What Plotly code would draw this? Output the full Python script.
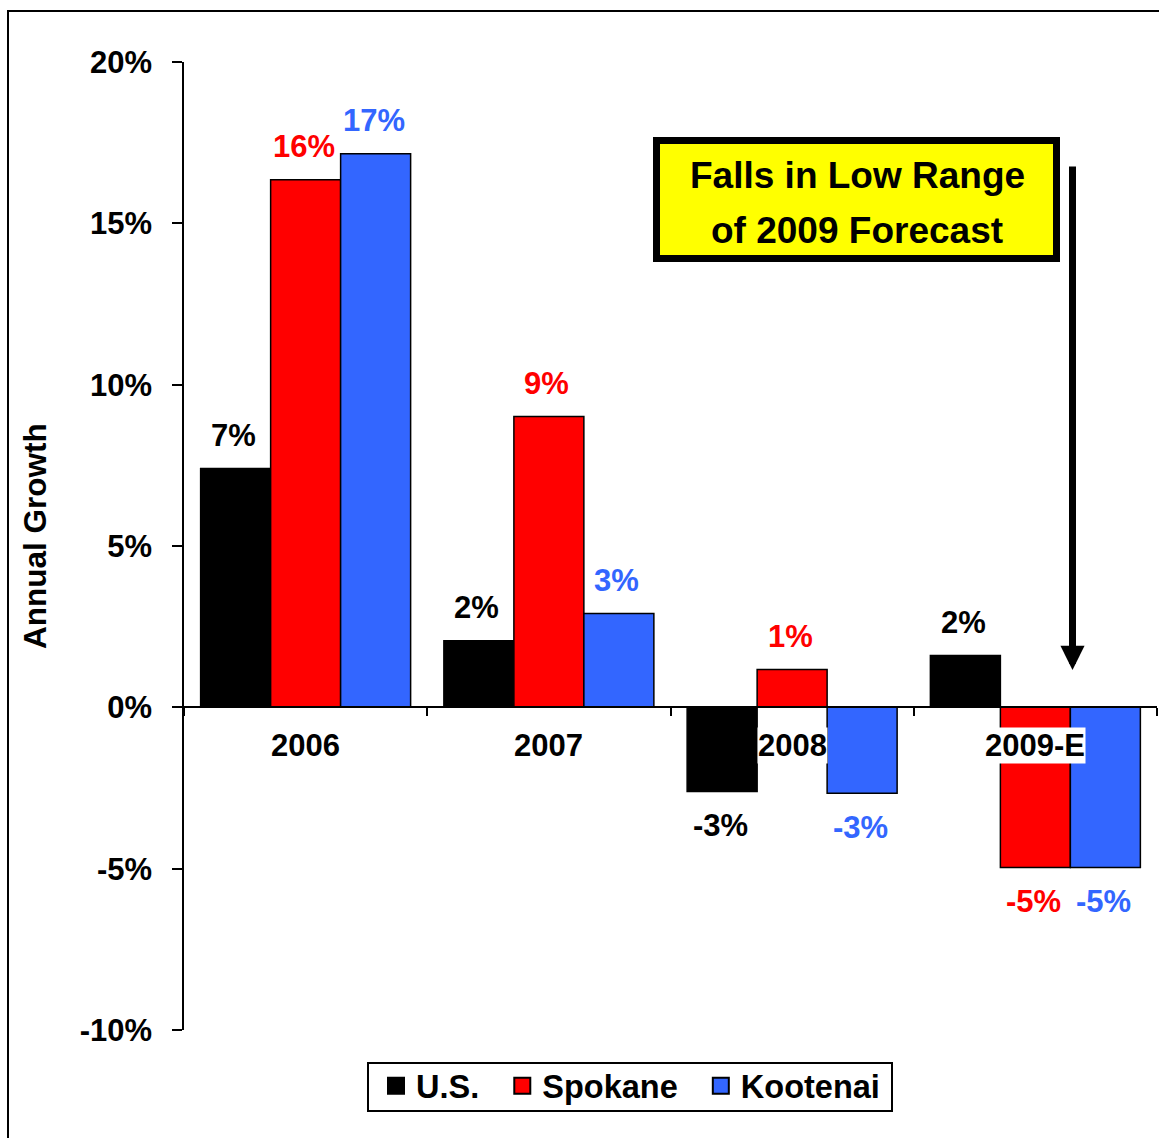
import plotly.graph_objects as go

categories = ["2006", "2007", "2008", "2009-E"]
series_names = ["U.S.", "Spokane", "Kootenai"]
us_values = [7.40, 2.06, -2.61, 1.61]
spokane_values = [16.35, 9.01, 1.17, -4.96]
kootenai_values = [17.16, 2.91, -2.66, -4.96]
series_colors = ["#000000", "#FF0000", "#3366FF"]
y_min, y_max, y_step = -10, 20, 5
y_tickvals = [-10, -5, 0, 5, 10, 15, 20]
y_ticktext = ["-10%", "-5%", "0%", "5%", "10%", "15%", "20%"]
callout_lines = ["Falls in Low Range", "of 2009 Forecast"]
y_title = "Annual Growth"

FONT = "Arial, Liberation Sans, sans-serif"
BARGAP = 0.1367
W, H = 1159, 1138
ML, MR, MT, MB = 184, 2, 62, 108
PW, PH = W - ML - MR, H - MT - MB

def px_x(p):
    return (p - ML) / PW

def px_y(p):
    return (H - MB - p) / PH

all_values = [us_values, spokane_values, kootenai_values]
NB = "\u00a0"
legend_labels = [series_names[0] + NB * 2, series_names[1] + NB * 2, series_names[2]]

fig = go.Figure()
for name, vals, col in zip(series_names, all_values, series_colors):
    fig.add_trace(go.Bar(x=categories, y=vals, name=name,
                         marker=dict(color=col, line=dict(color="black", width=1.5)),
                         showlegend=False, hoverinfo="skip"))
for name, col in zip(legend_labels, series_colors):
    fig.add_trace(go.Scatter(x=[None], y=[None], mode="markers", name=name,
                             marker=dict(symbol="square", size=16, color=col,
                                         line=dict(color="black", width=2))))

annotations = []
bw = (1 - BARGAP) / len(series_names)
for si, (vals, col) in enumerate(zip(all_values, series_colors)):
    for ci, v in enumerate(vals):
        annotations.append(dict(x=ci + (si - 1) * bw, y=v, xref="x", yref="y", text=f"{round(v):.0f}%",
                                showarrow=False, xanchor="center", yanchor="middle",
                                yshift=33 if v >= 0 else -34, xshift=-2,
                                font=dict(family=FONT, size=31, color=col, weight="bold")))
for ci, c in enumerate(categories):
    annotations.append(dict(x=ci, y=0, xref="x", yref="y", text=c, showarrow=False,
                            xanchor="center", yanchor="middle",
                            yshift=-38, bgcolor="white", borderpad=0,
                            font=dict(family=FONT, size=31, color="black", weight="bold")))
for line, cy in zip(callout_lines, [175, 231]):
    annotations.append(dict(x=px_x(857), y=px_y(cy), xref="paper", yref="paper", text=line,
                            showarrow=False, xanchor="center", yanchor="middle",
                            font=dict(family=FONT, size=37, color="black", weight="bold")))
annotations.append(dict(x=px_x(1072.5), y=px_y(670), xref="paper", yref="paper", text="", showarrow=True,
                        ax=0, ay=-505, axref="pixel", ayref="pixel", arrowhead=2, arrowsize=0.69,
                        arrowwidth=7, arrowcolor="black", standoff=0, startstandoff=0))
annotations.append(dict(x=px_x(35), y=px_y(536), xref="paper", yref="paper", text=y_title, textangle=-90,
                        showarrow=False, xanchor="center", yanchor="middle",
                        font=dict(family=FONT, size=31.5, color="black", weight="bold")))

shapes = [
    dict(type="rect", xref="paper", yref="paper", x0=px_x(656.5), x1=px_x(1056.5),
         y0=px_y(258.5), y1=px_y(140.5),
         fillcolor="#FFFF00", line=dict(color="black", width=7), layer="below"),
    dict(type="rect", xref="paper", yref="paper", x0=px_x(8), x1=px_x(1175), y0=px_y(1160), y1=px_y(11),
         fillcolor="rgba(0,0,0,0)", line=dict(color="black", width=2)),
    dict(type="rect", xref="paper", yref="paper", x0=px_x(368), x1=px_x(892), y0=px_y(1111), y1=px_y(1063),
         fillcolor="rgba(0,0,0,0)", line=dict(color="black", width=2)),
]

fig.update_layout(
    width=W, height=H, margin=dict(l=ML, r=MR, t=MT, b=MB),
    paper_bgcolor="white", plot_bgcolor="rgba(0,0,0,0)",
    barmode="group", bargap=BARGAP, bargroupgap=0,
    font=dict(family=FONT, size=31, color="black", weight="bold"),
    xaxis=dict(type="category", anchor="free", position=(0 - y_min) / (y_max - y_min),
               showline=True, linecolor="black", linewidth=2, ticks="outside", tickson="boundaries",
               ticklen=8, tickwidth=1.5, tickcolor="black", showticklabels=False, showgrid=False),
    yaxis=dict(range=[y_min, y_max], tickvals=y_tickvals, ticktext=y_ticktext, showline=True,
               linecolor="black", linewidth=1.5, ticks="outside", ticklen=10, tickwidth=1.5,
               tickcolor="black", showgrid=False, zeroline=False, ticklabelstandoff=14,
               tickfont=dict(family=FONT, size=31, color="black", weight="bold")),
    legend=dict(orientation="h", x=px_x(376), xanchor="left", y=px_y(1058), yanchor="top",
                borderwidth=0, bgcolor="rgba(0,0,0,0)",
                font=dict(family=FONT, size=32.5, color="black", weight="bold")),
    annotations=annotations, shapes=shapes, showlegend=True, hovermode=False,
)

fig.write_html("out.html", config={"displayModeBar": False},
               post_script="document.body.style.margin='0';")
